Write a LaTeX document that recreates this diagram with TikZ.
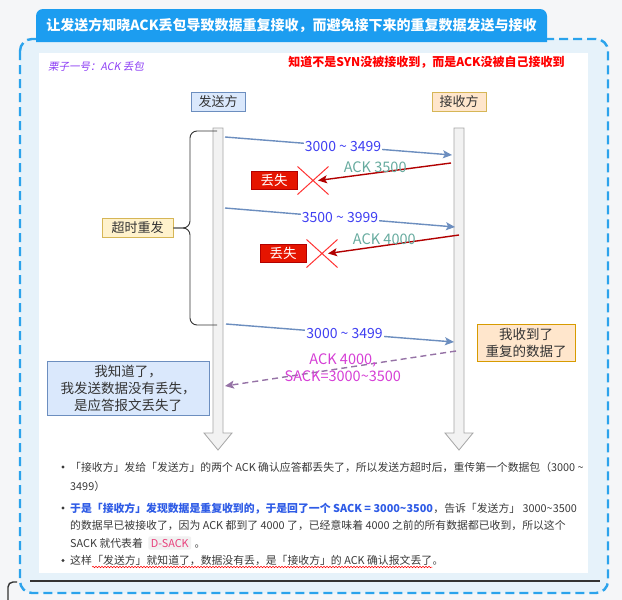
\documentclass[tikz,border=0pt]{standalone}
\usepackage{fontspec}
\setmainfont{Noto Sans CJK SC}
\newfontfamily\slantfont[FakeSlant=0.2]{Noto Sans CJK SC}
\usetikzlibrary{shapes.misc,arrows.meta,positioning,decorations.pathmorphing}

\definecolor{pagebg}{HTML}{F5F6F8}
\definecolor{panelblue}{HTML}{E6F2FA}
\definecolor{dashblue}{HTML}{2BA3EC}
\definecolor{titleblue}{HTML}{1C9DF0}
\definecolor{lifegray}{HTML}{A6A6A6}
\definecolor{lifefill}{HTML}{F2F2F2}
\definecolor{sendfill}{HTML}{DAE8FC}
\definecolor{sendline}{HTML}{6C8EBF}
\definecolor{recvfill}{HTML}{FFE6CC}
\definecolor{recvline}{HTML}{D6B656}
\definecolor{notefill}{HTML}{FFF2CC}
\definecolor{dupline}{HTML}{D79B00}
\definecolor{labelblue}{HTML}{3F3FF2}
\definecolor{ackred}{HTML}{B20000}
\definecolor{acktext}{HTML}{67AB9F}
\definecolor{crossred}{HTML}{FF3333}
\definecolor{lostred}{HTML}{E51400}
\definecolor{sackline}{HTML}{9673A6}
\definecolor{sacktext}{HTML}{D63FD6}
\definecolor{subpurple}{HTML}{8C3CF5}
\definecolor{warnred}{HTML}{FF0000}
\definecolor{textdark}{HTML}{333333}
\definecolor{bodygray}{HTML}{3A3A3A}
\definecolor{boldblue}{HTML}{2E5BE6}
\definecolor{codepink}{HTML}{E8417C}
\definecolor{codebg}{HTML}{F1F1F1}

\tikzset{
  rolebox/.style={rectangle, draw, line width=0.8pt, minimum width=54, minimum height=19, inner sep=1pt, text=textdark, font=\fontsize{13}{15}\selectfont},
  notebox/.style={rectangle, draw, line width=0.8pt, inner sep=2pt, align=center, text=textdark, font=\fontsize{13.5}{17}\selectfont},
  lifeline/.style={draw=lifegray, fill=lifefill, line width=0.8pt},
  dataarrow/.style={draw=sendline, line width=1.4pt, -{Stealth[length=9pt,width=8pt,inset=2pt]}},
  ackarrow/.style={draw=ackred, line width=1.4pt, -{Stealth[length=9pt,width=8pt,inset=2pt]}},
  sackarrow/.style={draw=sackline, line width=1.4pt, dash pattern=on 6pt off 4pt, -{Stealth[length=9pt,width=8pt,inset=2pt]}},
  datalabel/.style={fill=white, inner sep=1pt, text=labelblue, font=\fontsize{14}{16}\selectfont},
  acklabel/.style={inner sep=1pt, text=acktext, font=\fontsize{14.5}{16}\selectfont},
  crossmark/.style={cross out, draw=crossred, line width=1pt, minimum width=30, minimum height=27, inner sep=0pt},
  lostbox/.style={rectangle, fill=lostred, draw=ackred, line width=0.6pt, text=white, minimum width=46, minimum height=18, inner sep=0pt, font=\fontsize{13.5}{15}\selectfont},
  bodytext/.style={inner sep=0pt, anchor=base west, text=bodygray, font=\fontsize{10.85}{13}\selectfont},
  bulletdot/.style={circle, fill=bodygray, minimum size=3.2, inner sep=0pt}
}

\begin{document}
\begin{tikzpicture}[x=1pt, y=-1pt]
  \useasboundingbox (0,0) rectangle (622,600);
  \fill[pagebg] (0,0) rectangle (622,600);

  % Card frame, title tab and white panel
  \draw[dashblue, fill=panelblue, line width=2.4pt, dash pattern=on 9pt off 5pt, rounded corners=12pt] (20,39) rectangle (608,593);
  \fill[titleblue] (36,42) [rounded corners=7pt] -- (36,9) -- (547,9) [sharp corners] -- (547,42) -- cycle;
  \node[text=white, font=\bfseries\fontsize{14}{16}\selectfont] (title) at (291.5,25) {让发送方知晓ACK丢包导致数据重复接收，而避免接下来的重复数据发送与接收};
  \fill[white] (39,53) rectangle (588,573);
  \draw[textdark, line width=2pt] (30,581) -- (600,581);
  \draw[textdark, line width=1.4pt, rounded corners=5pt] (8,600) -- (8,582) -- (17,582);

  % Headings
  \node[anchor=west, inner sep=0pt, text=subpurple, font=\slantfont\fontsize{10.5}{12}\selectfont] (sub) at (48,66) {栗子一号：ACK 丢包};
  \node[inner sep=0pt, text=warnred, font=\bfseries\fontsize{12}{14}\selectfont] (warn) at (426.5,62) {知道不是SYN没被接收到，而是ACK没被自己接收到};

  % Sender and receiver
  \node[rolebox, draw=sendline, fill=sendfill] (sender) at (218,101.5) {发送方};
  \node[rolebox, draw=recvline, fill=recvfill] (receiver) at (459,101.5) {接收方};
  \draw[lifeline] (213,128) -- (223,128) -- (223,433) -- (232,433) -- (218,450) -- (204,433) -- (213,433) -- cycle;
  \draw[lifeline] (454,128) -- (464,128) -- (464,433) -- (473,433) -- (459,450) -- (445,433) -- (454,433) -- cycle;

  % Timeout brace
  \node[rolebox, draw=recvline, fill=notefill, minimum width=71] (timeout) at (137.5,228) {超时重发};
  \draw[textdark, line width=0.9pt, rounded corners=7pt] (217,131) -- (190,131) -- (190,228) -- (timeout.east);
  \draw[textdark, line width=0.9pt, rounded corners=7pt] (timeout.east) -- (190,228) -- (190,325) -- (217,325);

  % Message end points
  \coordinate (s1) at (225,137);
  \coordinate (r1) at (452,155);
  \coordinate (r2) at (451,163);
  \coordinate (s3) at (225,208);
  \coordinate (r3) at (455,227);
  \coordinate (r4) at (459,235);
  \coordinate (s5) at (226,324);
  \coordinate (r5) at (454,342);
  \coordinate (r6) at (456,351);
  \coordinate (s6) at (225,386);

  % First send and lost ACK
  \node[crossmark] (x1) at (313,180.5) {};
  \node[lostbox, left=0pt of x1] (lost1) {丢失};
  \draw[dataarrow] (s1) -- node[datalabel, pos=0.52] (l1) {3000 \textasciitilde{} 3499} (r1);
  \draw[ackarrow] (r2) -- node[acklabel, pos=0.57, yshift=6pt] (l2) {ACK 3500} ([xshift=5pt]x1.center);

  % Second send and lost ACK
  \node[crossmark] (x2) at (322,253.5) {};
  \node[lostbox, left=0pt of x2] (lost2) {丢失};
  \draw[dataarrow] (s3) -- node[datalabel, pos=0.5] (l3) {3500 \textasciitilde{} 3999} (r3);
  \draw[ackarrow] (r4) -- node[acklabel, pos=0.57, yshift=6pt] (l4) {ACK 4000} ([xshift=6pt]x2.center);

  % Retransmission and D-SACK
  \draw[dataarrow] (s5) -- node[datalabel, pos=0.52] (l5) {3000 \textasciitilde{} 3499} (r5);
  \draw[sackarrow] (r6) -- node[acklabel, text=sacktext, align=center, pos=0.49, font=\fontsize{14.5}{17}\selectfont] (l6) {ACK 4000,\\SACK=3000\textasciitilde3500} (s6);
  \node[notebox, draw=dupline, fill=recvfill, minimum width=98, minimum height=37] (dup) at (526,342.5) {我收到了\\重复的数据了};
  \node[notebox, draw=sendline, fill=sendfill, minimum width=162, minimum height=54] (know) at (128,388) {我知道了，\\我发送数据没有丢失，\\是应答报文丢失了};

  % Notes below the diagram
  \node[bulletdot] (d1) at (63,467) {};
  \node[bodytext] (b1a) at (70,471) {「接收方」发给「发送方」的两个 ACK 确认应答都丢失了，所以发送方超时后，重传第一个数据包（3000 \textasciitilde};
  \node[bodytext] (b1b) at (70,490) {3499）};

  \node[bulletdot] (d2) at (63,508) {};
  \node[bodytext, text=boldblue, font=\bfseries\fontsize{10.85}{13}\selectfont] (b2a) at (70,512) {于是「接收方」发现数据是重复收到的，于是回了一个 SACK = 3000\textasciitilde3500};
  \node[bodytext] (b2b) at (b2a.base east) {，告诉「发送方」 3000\textasciitilde3500};
  \node[bodytext] (b2c) at (70,529.5) {的数据早已被接收了，因为 ACK 都到了 4000 了，已经意味着 4000 之前的所有数据都已收到，所以这个};
  \node[bodytext] (b2d) at (70,547) {SACK 就代表着};
  \node[bodytext, inner sep=2.5pt, fill=codebg, rounded corners=2pt, text=codepink, xshift=5pt] (dsack) at (b2d.base east) {D-SACK};
  \node[bodytext, xshift=3pt] (b2e) at (dsack.base east) {。};

  \node[bulletdot] (d3) at (63,560.5) {};
  \node[bodytext] (b3a) at (70,564.5) {这样};
  \node[bodytext] (b3b) at (b3a.base east) {「发送方」就知道了，数据没有丢，是「接收方」的 ACK 确认报文丢了};
  \node[bodytext] (b3c) at (b3b.base east) {。};
  \draw[warnred, line width=0.5pt, decorate, decoration={snake, amplitude=0.7pt, segment length=3pt}] ([yshift=-2.5pt]b3b.base west) -- ([yshift=-2.5pt]b3b.base east);
\end{tikzpicture}
\end{document}
